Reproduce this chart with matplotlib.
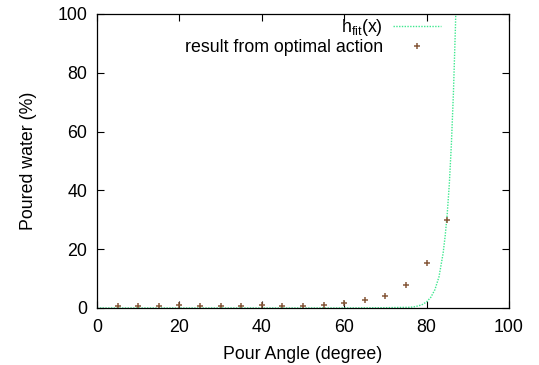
import matplotlib

matplotlib.use("Agg")
import matplotlib.pyplot as plt  # noqa: E402

plt.rcParams["font.family"] = ["Liberation Sans", "DejaVu Sans"]
plt.rcParams["mathtext.fontset"] = "custom"
plt.rcParams["mathtext.rm"] = "Liberation Sans"

# measured pour results (angle in degree, poured water in %)
angles = [5, 10, 15, 20, 25, 30, 35, 40, 45, 50, 55, 60, 65, 70, 75, 80, 85]
poured = [0.6, 0.7, 0.6, 0.9, 0.6, 0.6, 0.6, 0.9, 0.6, 0.7, 1.1, 1.7, 2.6, 4.1, 7.8, 15.2, 29.8]

# fitted curve h_fit(x)
fit_x = [0, 60, 70, 74, 76, 77, 78, 79, 80, 81, 82, 83, 84, 84.5, 85, 85.5, 86, 86.5, 87, 87.5]
fit_y = [0, 0.01, 0.1, 0.2, 0.24, 0.41, 0.71, 1.2, 2.1, 3.6, 6.2, 10.6, 18.6, 24.5, 32, 42, 55.5, 73, 96, 126]

FS = 12.8

fig = plt.figure(figsize=(5.39, 3.65), dpi=100)
ax = fig.add_axes([0.18, 0.1562, 0.7644, 0.8055])

ax.plot(fit_x, fit_y, color="#3ee88f", linestyle=(0, (1, 1)), linewidth=1.0,
        label=r"h$_{\mathrm{fit}}$(x)")
ax.plot(angles, poured, linestyle="none", marker="+", markersize=5, markeredgewidth=1.1,
        color="#86583a", label="result from optimal action")

ax.set_xlim(0, 100)
ax.set_ylim(0, 100)
ax.set_xticks([0, 20, 40, 60, 80, 100])
ax.set_yticks([0, 20, 40, 60, 80, 100])
ax.tick_params(direction="in", top=True, right=True, labelsize=FS, length=5, width=0.8)
ax.tick_params(axis="x", pad=8)
ax.tick_params(axis="y", pad=7)
for s in ax.spines.values():
    s.set_linewidth(0.9)
ax.set_xlabel("Pour Angle (degree)", fontsize=FS, labelpad=7)
ax.set_ylabel("Poured water (%)", fontsize=FS, labelpad=15)

leg = ax.legend(loc="upper right", bbox_to_anchor=(0.835, 0.99), frameon=False, fontsize=FS,
                markerfirst=False, handlelength=2.7, handletextpad=0.55, labelspacing=0.05,
                borderaxespad=0, borderpad=0)
for t in leg.get_texts():
    t.set_ha("right")

fig.savefig("out.png", dpi=100)
